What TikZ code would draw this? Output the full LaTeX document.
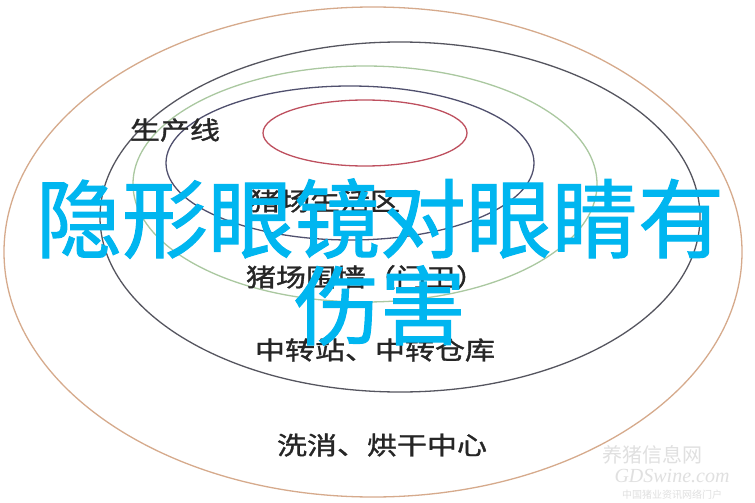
\documentclass[tikz,border=0pt]{standalone}
\usepackage{fontspec}
\newfontfamily\cjk{Noto Sans CJK SC}
\newfontfamily\cjkheavy[FakeBold=1.2]{Noto Sans CJK SC}
\setmainfont{Liberation Serif}
\definecolor{ringtan}{RGB}{214,170,140}
\definecolor{ringgray}{RGB}{85,85,95}
\definecolor{ringgreen}{RGB}{170,200,160}
\definecolor{ringnavy}{RGB}{80,80,110}
\definecolor{ringred}{RGB}{190,80,95}
\definecolor{titlecyan}{RGB}{0,182,240}
\tikzset{
  ring/.style={line width=1.3pt},
  zone/.style={font=\cjkheavy\fontsize{25}{25}\selectfont, text=black!85, xscale=1.2, inner sep=0pt},
  mark text/.style={text=black!12, inner sep=0pt}
}

\begin{document}
\begin{tikzpicture}[x=1pt,y=-1pt]
    \useasboundingbox (0,0) rectangle (755,503);
    \fill[white] (0,0) rectangle (755,503);
    % rings, outside to inside
    \draw[ring,ringtan] (373,252) ellipse [x radius=369, y radius=245];
    \draw[ring,ringgray] (400,217) ellipse [x radius=300, y radius=175];
    \draw[ring,ringgreen] (365,184) ellipse [x radius=232, y radius=118];
    \draw[ring,ringnavy] (350,163) ellipse [x radius=184, y radius=77];
    \draw[ring,ringred] (365,133) ellipse [x radius=102, y radius=33];
    % zone labels
    \node[zone] (line) at (175,130) {生产线};
    \node[zone] (live) at (325,201) {猪场生活区};
    \node[zone] (wall) at (366,277) {猪场围墙（门卫）};
    \node[zone] (hub) at (375,350) {中转站、中转仓库};
    \node[zone] (wash) at (382,445) {洗消、烘干中心};
    % watermark
    \node[mark text,font=\cjk\fontsize{20}{20}\selectfont] (mark1) at (652,455) {养猪信息网};
    \node[mark text,font=\fontsize{20}{20}\selectfont\itshape] (mark2) at (672,476) {GDSwine.com};
    \node[mark text,font=\cjk\fontsize{10}{10}\selectfont] (mark3) at (672,495) {中国猪业资讯网络门户};
    % title over everything
    \node[text=titlecyan,font=\cjkheavy\fontsize{86}{87}\selectfont,align=center,inner sep=0pt] (title) at (380,262) {隐形眼镜对眼睛有\\伤害};
\end{tikzpicture}
\end{document}
